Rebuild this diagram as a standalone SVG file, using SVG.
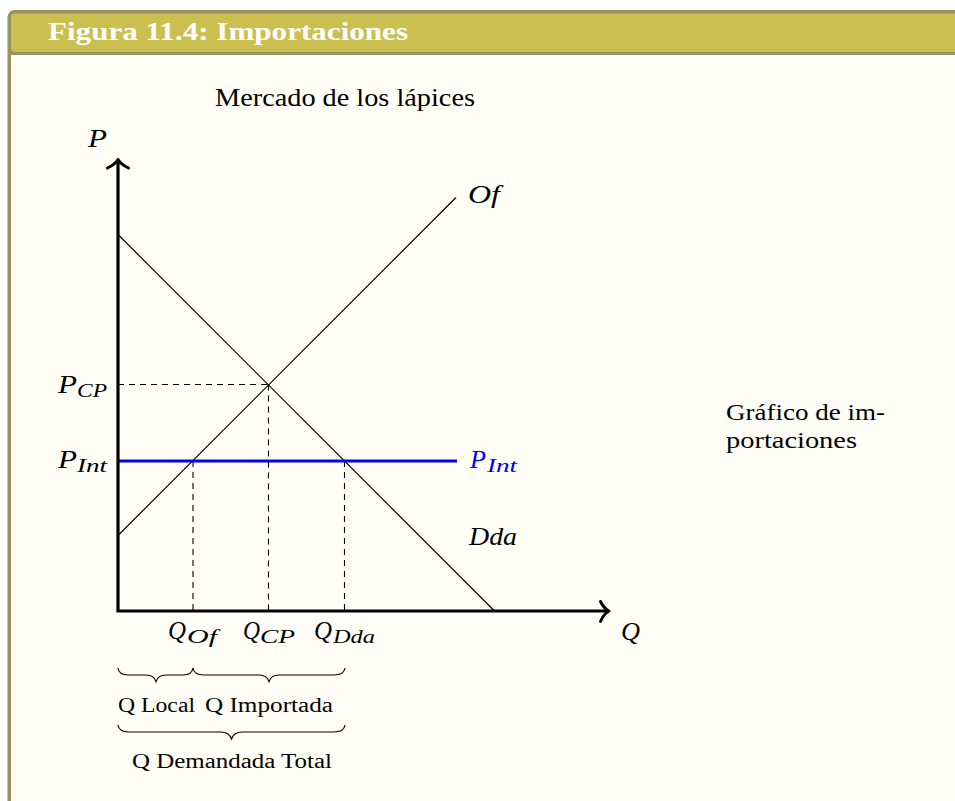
<svg xmlns="http://www.w3.org/2000/svg" width="955" height="801" viewBox="0 0 955 801">
<style>
.serif{font-family:"Liberation Serif","Times New Roman",serif;fill:#000}
.it{font-family:"Liberation Serif","Times New Roman",serif;font-style:italic;fill:#000}
.sub{font-family:"Liberation Serif","Times New Roman",serif;font-style:italic;fill:#000;font-size:19px}
.blue{fill:#0000FF}
.axis{stroke:#000;stroke-width:3.2;fill:none;stroke-linecap:butt}
.curve{stroke:#000;stroke-width:1.2;fill:none}
.dash{stroke:#000;stroke-width:1.1;stroke-dasharray:6 5;fill:none}
.brace{stroke:#000;stroke-width:1.2;fill:none}
.head{stroke:#000;stroke-width:3;fill:none;stroke-linecap:round;stroke-linejoin:round}
</style>
<rect width="955" height="801" fill="#ffffff"/>
<g id="frame">
  <rect x="7.5" y="10" width="980" height="820" rx="7" fill="#97945F"/>
  <rect x="11" y="13.5" width="975" height="38.5" rx="4" fill="#CBBF50"/>
  <rect x="11" y="55" width="975" height="800" fill="#FEFEF6"/>
  <text x="48" y="40" font-family="Liberation Serif,'Times New Roman',serif" font-weight="bold" font-size="25" fill="#ffffff" textLength="360" lengthAdjust="spacingAndGlyphs">Figura 11.4: Importaciones</text>
</g>
<g id="title">
  <text class="serif" x="215" y="106" font-size="25" textLength="260" lengthAdjust="spacingAndGlyphs">Mercado de los lápices</text>
</g>
<g id="connectors">
  <line class="dash" x1="118" y1="384.5" x2="268.5" y2="384.5"/>
  <line class="dash" x1="268.5" y1="384.5" x2="268.5" y2="611"/>
  <line class="dash" x1="193" y1="461" x2="193" y2="611"/>
  <line class="dash" x1="344.5" y1="461" x2="344.5" y2="611"/>
  <line class="curve" x1="118" y1="234.5" x2="494.5" y2="611"/>
  <line class="curve" x1="118" y1="535.5" x2="456" y2="197.5"/>
  <line x1="118" y1="461" x2="457" y2="461" stroke="#0000FF" stroke-width="3"/>
  <polyline class="axis" points="118,161 118,611 607,611"/>
  <path class="head" d="M107.5,168 Q115,164.5 118,159.5 Q121,164.5 128.5,168"/>
  <path class="head" d="M600.5,601.5 Q604,608.5 609,611 Q604,613.5 600.5,621.5"/>
</g>
<g id="axis-labels">
  <text class="it" x="88" y="147" font-size="26" textLength="19" lengthAdjust="spacingAndGlyphs">P</text>
  <text class="it" x="621" y="640" font-size="26" textLength="19" lengthAdjust="spacingAndGlyphs">Q</text>
</g>
<g id="supply">
  <text class="it" x="468" y="203" font-size="26" textLength="32" lengthAdjust="spacingAndGlyphs">Of</text>
</g>
<g id="demand">
  <text class="it" x="469" y="545" font-size="26" textLength="48" lengthAdjust="spacingAndGlyphs">Dda</text>
</g>
<g id="pint-right">
  <text class="it blue" x="470" y="468" font-size="26" textLength="16" lengthAdjust="spacingAndGlyphs">P</text>
  <text class="sub blue" x="487" y="472" textLength="30" lengthAdjust="spacingAndGlyphs">Int</text>
</g>
<g id="pcp-label">
  <text class="it" x="58" y="393" font-size="26" textLength="19" lengthAdjust="spacingAndGlyphs">P</text>
  <text class="sub" x="77" y="397" textLength="30" lengthAdjust="spacingAndGlyphs">CP</text>
</g>
<g id="pint-left">
  <text class="it" x="58" y="468" font-size="26" textLength="19" lengthAdjust="spacingAndGlyphs">P</text>
  <text class="sub" x="77" y="472" textLength="30" lengthAdjust="spacingAndGlyphs">Int</text>
</g>
<g id="qof">
  <text class="it" x="168" y="639" font-size="26" textLength="18" lengthAdjust="spacingAndGlyphs">Q</text>
  <text class="sub" x="187" y="643" textLength="30" lengthAdjust="spacingAndGlyphs">Of</text>
</g>
<g id="qcp">
  <text class="it" x="243" y="639" font-size="26" textLength="17" lengthAdjust="spacingAndGlyphs">Q</text>
  <text class="sub" x="260" y="643" textLength="35" lengthAdjust="spacingAndGlyphs">CP</text>
</g>
<g id="qdda">
  <text class="it" x="314" y="639" font-size="26" textLength="18" lengthAdjust="spacingAndGlyphs">Q</text>
  <text class="sub" x="333" y="643" textLength="42" lengthAdjust="spacingAndGlyphs">Dda</text>
</g>
<g id="side-note">
  <text class="serif" x="726" y="420" font-size="24" textLength="159" lengthAdjust="spacingAndGlyphs">Gráfico de im-</text>
  <text class="serif" x="726" y="448" font-size="24" textLength="131" lengthAdjust="spacingAndGlyphs">portaciones</text>
</g>
<g id="braces">
  <path class="brace" d="M118,668 Q119,675 128,675 L146,675 Q154,675 156,681.5 Q158,675 166,675 L183,675 Q192,675 193,668"/>
  <path class="brace" d="M193,668 Q194,675 204,675 L259,675 Q267,675 269,681.5 Q271,675 279,675 L334,675 Q344,675 345,668"/>
  <path class="brace" d="M118,725 Q119,732 129,732 L221,732 Q229,732 231.5,739 Q234,732 242,732 L334,732 Q344,732 345,725"/>
</g>
<g id="brace-labels">
  <text class="serif" x="118" y="712" font-size="20" textLength="77" lengthAdjust="spacingAndGlyphs">Q Local</text>
  <text class="serif" x="205" y="712" font-size="20" textLength="128" lengthAdjust="spacingAndGlyphs">Q Importada</text>
  <text class="serif" x="132" y="768" font-size="20" textLength="200" lengthAdjust="spacingAndGlyphs">Q Demandada Total</text>
</g>
</svg>
